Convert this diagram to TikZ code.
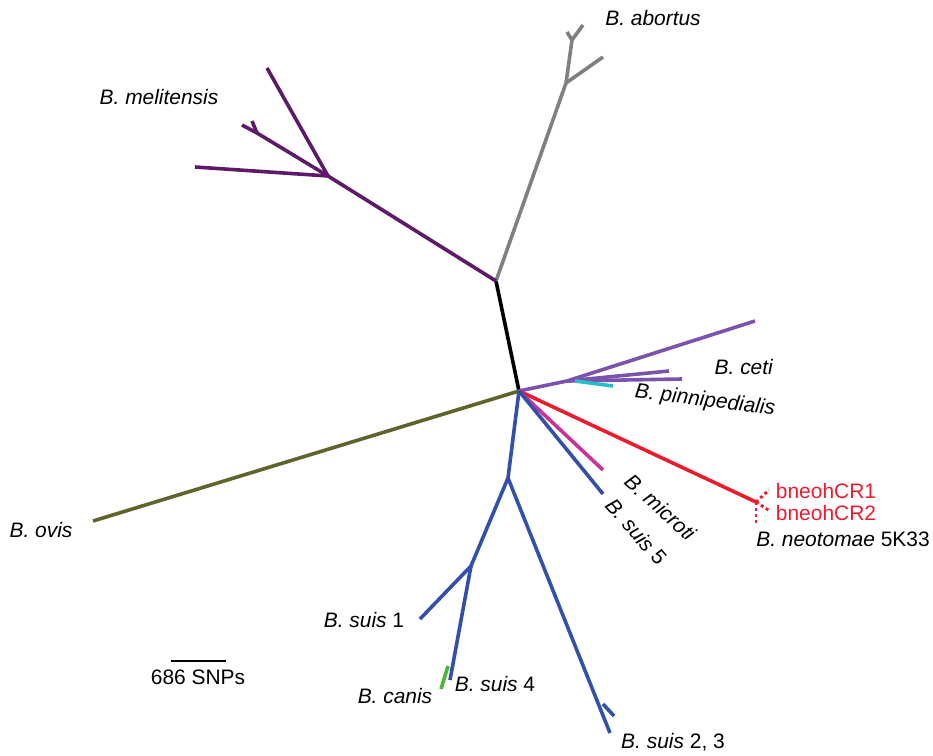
\documentclass[tikz,border=0pt]{standalone}
\usepackage{fontspec}
\setmainfont{Liberation Sans}
\definecolor{abortuscol}{RGB}{128,128,128}
\definecolor{melicol}{RGB}{92,26,104}
\definecolor{ceticol}{RGB}{122,84,172}
\definecolor{pinncol}{RGB}{40,190,200}
\definecolor{oviscol}{RGB}{96,100,44}
\definecolor{neocol}{RGB}{236,28,46}
\definecolor{micrcol}{RGB}{204,50,150}
\definecolor{suiscol}{RGB}{50,80,170}
\definecolor{caniscol}{RGB}{80,180,60}

\begin{document}
\begin{tikzpicture}[x=0.75pt,y=-0.75pt,
    every node/.style={font=\fontsize{15.7}{18}\selectfont, inner sep=0pt},
    br/.style={line width=2.7pt},
    tipdot/.style={line width=2.2pt, dash pattern=on 2.2pt off 2.2pt}]
    \useasboundingbox (0,0) rectangle (933,756);

    % inner nodes
    \coordinate (root) at (519,391);
    \coordinate (n1) at (496,281);
    \coordinate (ab1) at (566,83);
    \coordinate (ab2) at (572,40);
    \coordinate (me1) at (328,176);
    \coordinate (me2) at (257,133);
    \coordinate (ce1) at (567,381);
    \coordinate (pi1) at (575,381);
    \coordinate (su1) at (508,478);
    \coordinate (su2) at (471,566);
    \coordinate (ca1) at (448,666);
    \coordinate (su3) at (603,704);

    % tips
    \coordinate (tab1) at (603,57);
    \coordinate (tab2) at (567,32);
    \coordinate (tab3) at (583,25);
    \coordinate (tme1) at (195,167);
    \coordinate (tme2) at (267,68);
    \coordinate (tme3) at (242,125);
    \coordinate (tme4) at (252,121);
    \coordinate (tov) at (93,521);
    \coordinate (tce1) at (755,321);
    \coordinate (tce2) at (669,371);
    \coordinate (tce3) at (682,379);
    \coordinate (tpi) at (613,386);
    \coordinate (tne) at (756,502);
    \coordinate (tcr1) at (769,490);
    \coordinate (tcr2) at (770,511);
    \coordinate (tcr3) at (756,523);
    \coordinate (tmi) at (603,470);
    \coordinate (ts5) at (603,494);
    \coordinate (ts1) at (420,619);
    \coordinate (ts4) at (450,680);
    \coordinate (tca) at (441,689);
    \coordinate (ts23a) at (610,733);
    \coordinate (ts23b) at (614,716);

    % branches
    \draw[br] (root) -- (n1);
    \draw[br,abortuscol] (n1) -- (ab1) -- (ab2) -- (tab2);
    \draw[br,abortuscol] (ab1) -- (tab1);
    \draw[br,abortuscol] (ab2) -- (tab3);
    \draw[br,melicol] (n1) -- (me1) -- (tme1);
    \draw[br,melicol] (me1) -- (tme2);
    \draw[br,melicol] (me1) -- (me2) -- (tme3);
    \draw[br,melicol] (me2) -- (tme4);
    \draw[br,oviscol] (root) -- (tov);
    \draw[br,ceticol] (root) -- (ce1) -- (tce1);
    \draw[br,ceticol] (ce1) -- (tce2);
    \draw[br,ceticol] (ce1) -- (tce3);
    \draw[br,pinncol] (pi1) -- (tpi);
    \draw[br,neocol] (root) -- (tne);
    \draw[tipdot,neocol] (tne) -- (tcr1);
    \draw[tipdot,neocol] (tne) -- (tcr2);
    \draw[tipdot,neocol] (tne) -- (tcr3);
    \draw[br,micrcol] (root) -- (tmi);
    \draw[br,suiscol] (root) -- (ts5);
    \draw[br,suiscol] (root) -- (su1) -- (su2) -- (ts1);
    \draw[br,suiscol] (su2) -- (ts4);
    \draw[br,caniscol] (ca1) -- (tca);
    \draw[br,suiscol] (su1) -- (ts23a);
    \draw[br,suiscol] (su3) -- (ts23b);

    % labels
    \node (labortus) at (653,18) {\textit{B. abortus}};
    \node (lmeli) at (159,97) {\textit{B. melitensis}};
    \node (lceti) at (744,367) {\textit{B. ceti}};
    \node[rotate=-7] (lpinn) at (705,401) {\textit{B. pinnipedialis}};
    \node[rotate=-42,anchor=west] (lmicr) at (628,478) {\textit{B. microti}};
    \node[rotate=-49,anchor=west] (lsuis5) at (610,501) {\textit{B. suis} 5};
    \node[neocol] (lcr1) at (826,491) {bneohCR1};
    \node[neocol] (lcr2) at (826,513) {bneohCR2};
    \node (lneo) at (843,539) {\textit{B. neotomae} 5K33};
    \node (lovis) at (41,530) {\textit{B. ovis}};
    \node (lsuis1) at (364,620) {\textit{B. suis} 1};
    \node (lcanis) at (395,696) {\textit{B. canis}};
    \node (lsuis4) at (495,684) {\textit{B. suis} 4};
    \node (lsuis23) at (673,742) {\textit{B. suis} 2, 3};

    % scale bar
    \coordinate (sb1) at (171,661);
    \coordinate (sb2) at (226,661);
    \draw[line width=2pt] (sb1) -- (sb2);
    \node (lscale) at (198,677) {686 SNPs};
\end{tikzpicture}
\end{document}
